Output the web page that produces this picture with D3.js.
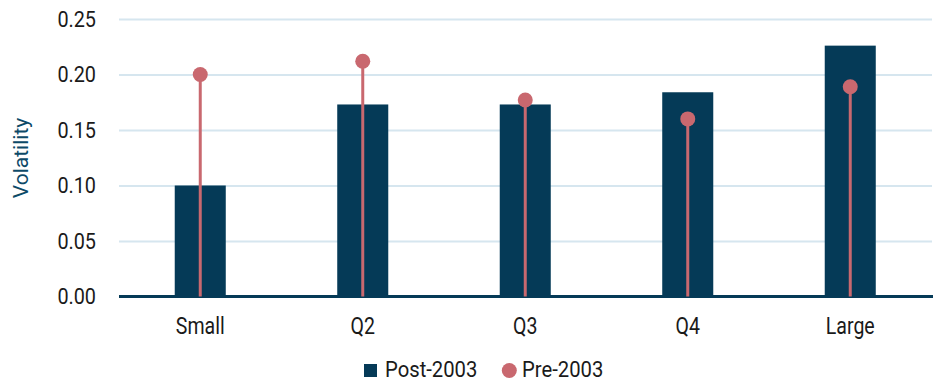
<!DOCTYPE html>
<html><head><meta charset="utf-8">
<script src="https://cdn.jsdelivr.net/npm/d3@7"></script>
<style>body{margin:0;background:#fff}svg{display:block;font-family:Roboto,"Noto Sans",sans-serif}</style>
</head><body><svg id="c" width="933" height="384"></svg>
<script>
const categories = ["Small","Q2","Q3","Q4","Large"];
const post2003 = [0.100,0.173,0.173,0.184,0.226];
const pre2003 = [0.200,0.212,0.177,0.160,0.189];
const yTicks = [0,0.05,0.10,0.15,0.20,0.25];
const seriesNames = ["Post-2003","Pre-2003"];

const navy="#053a57", pink="#c9686f", grid="#d6e6ef", ink="#1a1a1a";
const svg=d3.select("#c");
const x=d3.scaleBand().domain(categories).range([119,931.5]).paddingInner(0.686).paddingOuter(0.343);
const y=d3.scaleLinear().domain([0,0.25]).range([296.5,19]);

function condense(sel,f){
  sel.each(function(){
    const w=this.getComputedTextLength();
    d3.select(this).attr("textLength",w*f).attr("lengthAdjust","spacingAndGlyphs");
  });
}

const ya=svg.append("g").attr("transform","translate(119,0)")
  .call(d3.axisLeft(y).tickValues(yTicks).tickFormat(d3.format(".2f")).tickSize(-813).tickPadding(23));
ya.select(".domain").remove();
ya.selectAll(".tick line").attr("stroke",grid).attr("stroke-width",2);
ya.selectAll(".tick text").attr("fill",ink).attr("font-size",22).attr("font-family","Roboto").call(condense,0.9);

svg.append("text").attr("transform","translate(28,158) rotate(-90)").attr("text-anchor","middle")
  .attr("fill","#0d4a68").attr("font-size",21).text("Volatility");

svg.append("g").selectAll("rect").data(categories).join("rect")
  .attr("x",d=>x(d)).attr("width",x.bandwidth())
  .attr("y",(d,i)=>y(post2003[i])).attr("height",(d,i)=>y(0)-y(post2003[i]))
  .attr("fill",navy);

svg.append("line").attr("x1",119).attr("x2",933).attr("y1",y(0)).attr("y2",y(0)).attr("stroke",navy).attr("stroke-width",3);

const cx=d=>x(d)+x.bandwidth()/2;
svg.append("g").selectAll("line").data(categories).join("line")
  .attr("x1",cx).attr("x2",cx).attr("y1",y(0)).attr("y2",(d,i)=>y(pre2003[i]))
  .attr("stroke",pink).attr("stroke-width",3);
svg.append("g").selectAll("circle").data(categories).join("circle")
  .attr("cx",cx).attr("cy",(d,i)=>y(pre2003[i])).attr("r",7.5).attr("fill",pink);

const xa=svg.append("g").attr("transform",`translate(0,${y(0)})`)
  .call(d3.axisBottom(x).tickSize(0));
xa.select(".domain").remove();
xa.selectAll(".tick text").attr("fill",ink).attr("font-size",23).attr("font-family","Roboto")
  .attr("y",37.5).attr("dy",0).call(condense,0.85);

const lg=svg.append("g");
lg.append("rect").attr("x",364).attr("y",364).attr("width",13).attr("height",13).attr("fill",navy);
lg.append("text").attr("x",385).attr("y",377).attr("font-size",22).attr("fill",ink).text(seriesNames[0]).call(condense,0.92);
lg.append("circle").attr("cx",509.3).attr("cy",370.5).attr("r",7.5).attr("fill",pink);
lg.append("text").attr("x",522).attr("y",377).attr("font-size",22).attr("fill",ink).text(seriesNames[1]).call(condense,0.92);
</script></body></html>
